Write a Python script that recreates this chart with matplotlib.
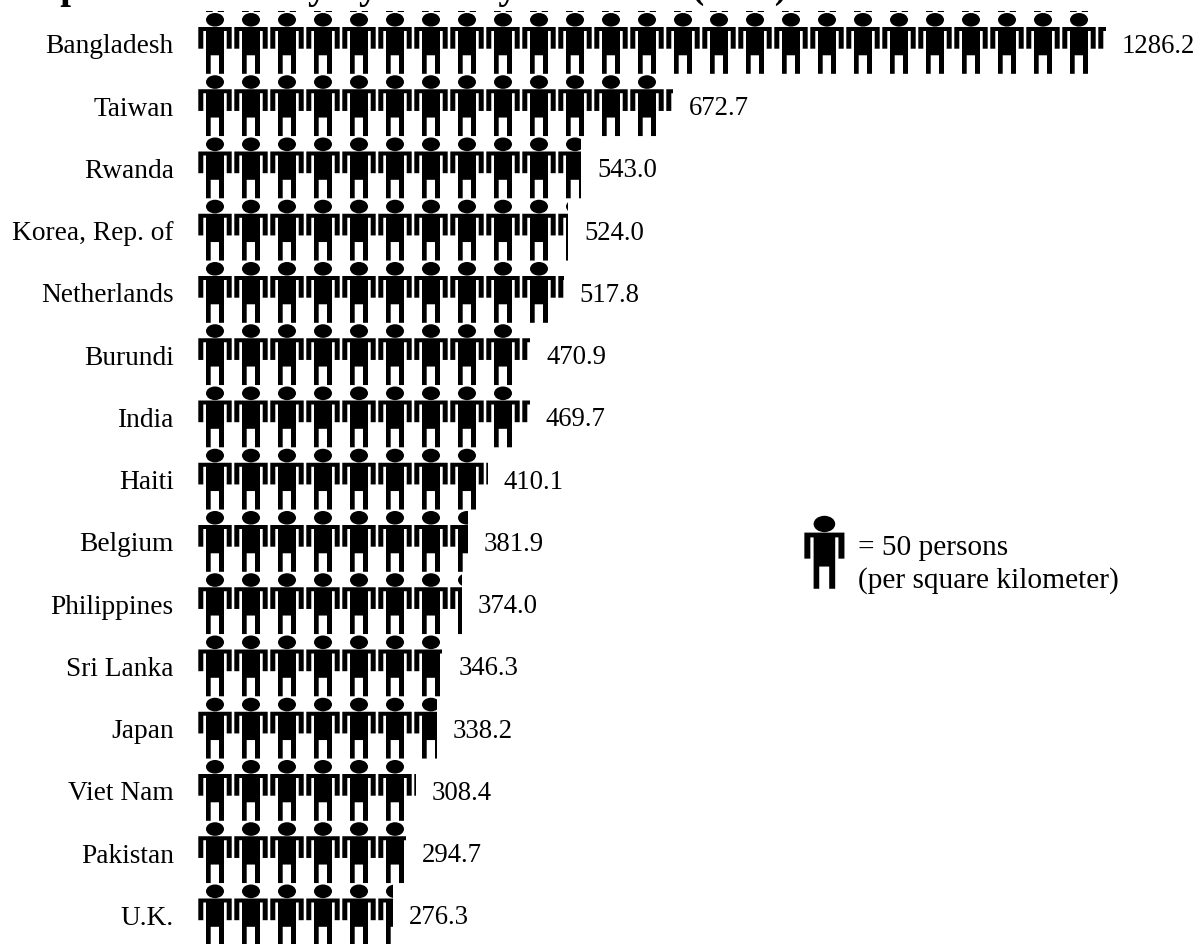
import math

import matplotlib
matplotlib.use("Agg")
import matplotlib.pyplot as plt
from matplotlib.patches import PathPatch, Rectangle
from matplotlib.path import Path
from matplotlib.transforms import Affine2D

countries = ["Bangladesh", "Taiwan", "Rwanda", "Korea, Rep. of", "Netherlands",
             "Burundi", "India", "Haiti", "Belgium", "Philippines",
             "Sri Lanka", "Japan", "Viet Nam", "Pakistan", "U.K."]
density = [1286.2, 672.7, 543.0, 524.0, 517.8,
           470.9, 469.7, 410.1, 381.9, 374.0,
           346.3, 338.2, 308.4, 294.7, 276.3]

W, H = 1195, 945
LEFT = 198
PX_PER_UNIT = 0.706
ICON_PX = 36
ROW_PX = 62.25
ROW0_Y = 44

plt.rcParams["font.family"] = ["Liberation Serif", "DejaVu Serif"]
VALUE_FS = 19.3
LABEL_FS = 19.7
LEGEND_FS = 21.2

# person outline in pixels, relative to the row's left edge and the top of the image
BODY = [(0.3, 28), (33.7, 28), (33.7, 49.7), (28.7, 49.7), (28.7, 32), (26, 32),
        (26, 74.8), (21, 74.8), (21, 56.3), (12.7, 56.3), (12.7, 74.8), (8, 74.8),
        (8, 32), (5.3, 32), (5.3, 49.7), (0.3, 49.7), (0.3, 28)]


def person_path():
    body = Path(BODY, closed=True)
    head = Path.unit_circle().transformed(Affine2D().scale(9, 6.8).translate(17, 20.8))
    return Path.make_compound_path(body, head)


def feet_path():
    # leftover slice of the row above, only seen over the first row
    left = Path.unit_rectangle().transformed(Affine2D().scale(6.7, 1).translate(8, 12))
    right = Path.unit_rectangle().transformed(Affine2D().scale(6.3, 1).translate(19.7, 12))
    return Path.make_compound_path(left, right)


fig = plt.figure(figsize=(W / 100, H / 100), dpi=100)
ax = fig.add_axes([LEFT / W, 0, 1 - LEFT / W, 1])
ax.set_xlim(0, (W - LEFT) / PX_PER_UNIT)
ax.set_ylim((H - ROW0_Y) / ROW_PX, -ROW0_Y / ROW_PX)

to_data = Affine2D().translate(0, -ROW0_Y).scale(1 / PX_PER_UNIT, 1 / ROW_PX)
icon_step = ICON_PX / PX_PER_UNIT

for row, value in enumerate(density):
    n = math.ceil(value / icon_step)
    parts = []
    for k in range(n):
        shift = Affine2D().translate(k * icon_step, row)
        parts.append(person_path().transformed(to_data + shift))
        if row == 0:
            parts.append(feet_path().transformed(to_data + shift))
    clip = Rectangle((0, row - 1), value, 2, transform=ax.transData)
    patch = PathPatch(Path.make_compound_path(*parts), facecolor="black", edgecolor="none")
    ax.add_patch(patch)
    patch.set_clip_path(clip)
    ax.annotate(f"{value:.1f}", (value, row), xytext=(11.5, -1.7), textcoords="offset points",
                va="center", ha="left", fontsize=VALUE_FS, annotation_clip=False)

ax.set_yticks(range(len(countries)))
ax.set_yticklabels(countries, fontsize=LABEL_FS)
ax.tick_params(axis="y", length=0, pad=17.5)
ax.xaxis.set_visible(False)
for s in ax.spines.values():
    s.set_visible(False)

# legend icon, placed in image pixels
legend_tf = Affine2D().scale(1.2).translate(804, 500).scale(1, -1).translate(0, H)
fig.add_artist(PathPatch(person_path(), facecolor="black", edgecolor="none", transform=legend_tf))
fig.text(858 / W, 1 - 555 / H, "= 50 persons", fontsize=LEGEND_FS, va="baseline")
fig.text(858 / W, 1 - 588 / H, "(per square kilometer)", fontsize=LEGEND_FS, va="baseline")

# title sits mostly above the top edge, as in the source image
fig.text(17 / W, 1 + 2.5 / H, "Population density by country or area",
         fontsize=28, fontweight="bold", va="baseline")
fig.text(691 / W, 1 + 2.5 / H, "(2011)", fontsize=26.5, fontweight="bold", va="baseline")

fig.savefig("out.png", dpi=100)
